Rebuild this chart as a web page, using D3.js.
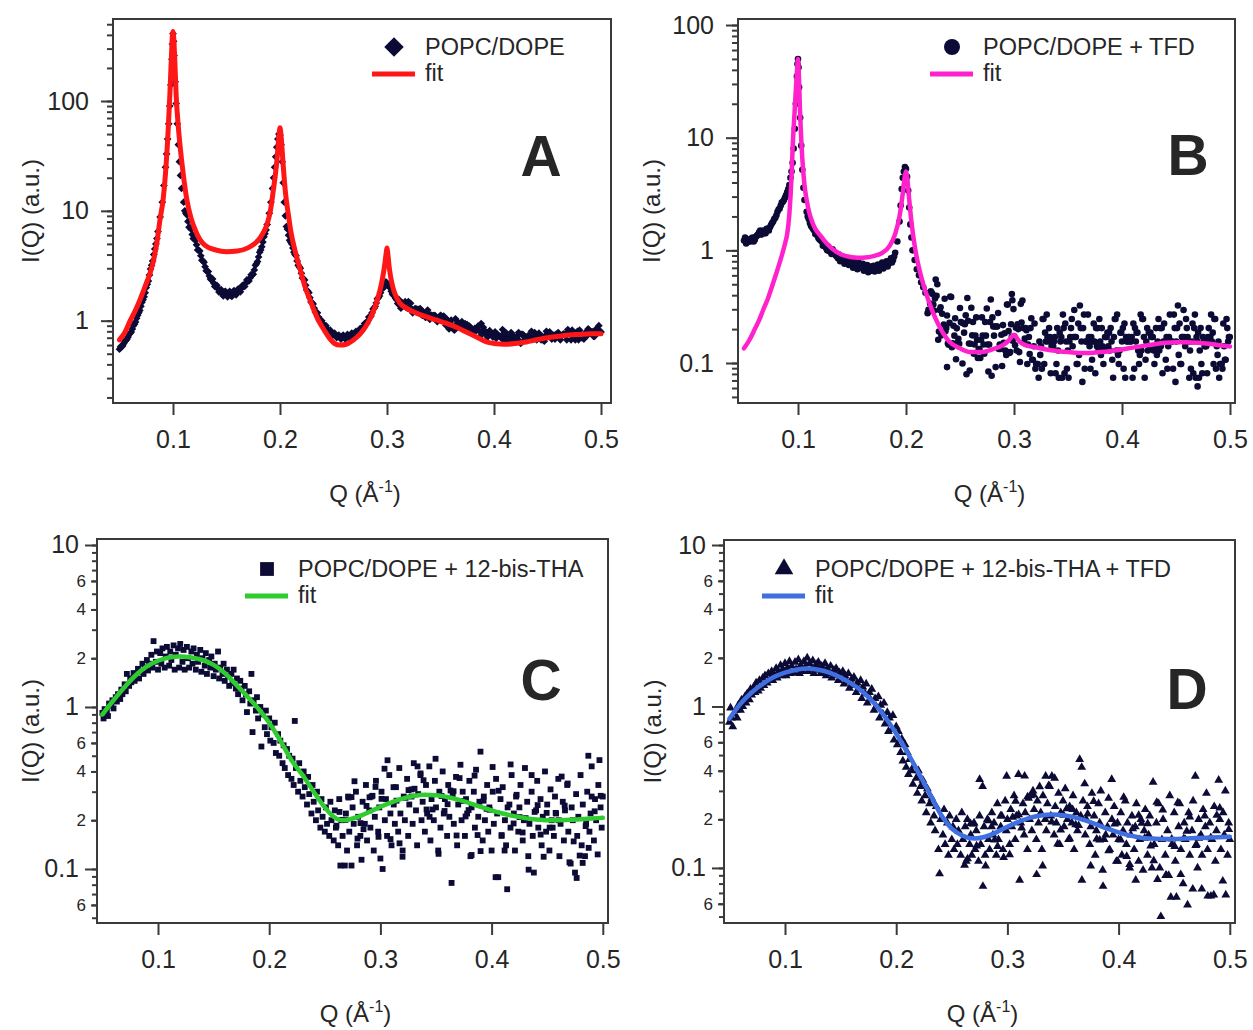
<!DOCTYPE html>
<html>
<head>
<meta charset="utf-8">
<script src="https://cdn.jsdelivr.net/npm/d3@7"></script>
<style>
  body { margin: 0; background: #fff; }
  svg { display: block; }
  text { font-family: "Liberation Sans", Arial, sans-serif; fill: #262626; }
</style>
</head>
<body>
<svg id="fig" width="1253" height="1030"></svg>
<script>
// ---------- shared tick values ----------
const qTicks = [0.1, 0.2, 0.3, 0.4, 0.5];
const qTickLabels = ["0.1", "0.2", "0.3", "0.4", "0.5"];
const topMajorTicks = [0.1, 1, 10, 100];
const bottomMajorTicks = [0.1, 1, 10];
const bottomLabelledMinorTicks = [0.06, 0.2, 0.4, 0.6, 2, 4, 6];

// ---------- A: POPC/DOPE (Q, I) ----------
const popcDope = [
[0.050,0.55],[0.052,0.58],[0.054,0.62],[0.056,0.66],[0.058,0.71],[0.060,0.77],[0.062,0.84],[0.064,0.93],
[0.066,1.05],[0.068,1.18],[0.070,1.35],[0.072,1.55],[0.074,1.8],[0.076,2.15],[0.078,2.6],[0.080,3.2],
[0.082,4.0],[0.084,5.0],[0.086,6.5],[0.088,8.8],[0.090,12],[0.0915,17],[0.093,25],[0.094,33],[0.095,45],
[0.096,62],[0.097,90],[0.098,140],[0.099,240],[0.0995,330],[0.100,410],[0.1005,350],[0.101,260],[0.102,150],
[0.103,95],[0.104,62],[0.105,40],[0.106,28],[0.107,21],[0.108,16],[0.110,12],[0.112,9.5],[0.114,8.0],
[0.116,7.0],[0.118,6.1],[0.120,5.5],[0.122,4.9],[0.124,4.4],[0.126,3.9],[0.128,3.5],[0.130,3.1],[0.132,2.8],
[0.134,2.55],[0.136,2.35],[0.138,2.2],[0.140,2.05],[0.142,1.95],[0.144,1.85],[0.146,1.78],[0.148,1.82],
[0.150,1.72],[0.152,1.78],[0.154,1.7],[0.156,1.8],[0.158,1.76],[0.160,1.85],[0.162,1.9],[0.164,1.98],
[0.166,2.05],[0.168,2.2],[0.170,2.3],[0.172,2.45],[0.174,2.6],[0.176,2.9],[0.178,3.3],[0.180,3.8],
[0.182,4.4],[0.184,5.2],[0.186,6.2],[0.188,7.5],[0.190,9.5],[0.1915,12],[0.193,16],[0.194,20],[0.195,25],
[0.196,31],[0.197,38],[0.198,45],[0.199,50],[0.200,49],[0.201,40],[0.202,28],[0.203,18],[0.204,12],
[0.205,9],[0.206,7.2],[0.208,6.0],[0.210,5.2],[0.212,4.6],[0.214,4.0],[0.216,3.5],[0.218,3.1],[0.220,2.7],
[0.222,2.4],[0.224,2.1],[0.226,1.85],[0.228,1.62],[0.230,1.45],[0.232,1.3],[0.234,1.18],[0.236,1.08],
[0.238,1.0],[0.240,0.94],[0.242,0.88],[0.244,0.84],[0.246,0.8],[0.248,0.78],[0.250,0.76],[0.252,0.73],
[0.254,0.72],[0.256,0.7],[0.258,0.71],[0.260,0.7],[0.262,0.72],[0.264,0.71],[0.266,0.73],[0.268,0.75],
[0.270,0.76],[0.272,0.78],[0.274,0.8],[0.276,0.84],[0.278,0.88],[0.280,0.93],[0.282,1.0],[0.284,1.08],
[0.286,1.18],[0.288,1.3],[0.290,1.45],[0.292,1.62],[0.294,1.8],[0.296,1.98],[0.298,2.15],[0.300,2.2],
[0.302,2.05],[0.304,1.85],[0.306,1.7],[0.308,1.6],
[0.051,0.58],[0.053,0.59],[0.055,0.65],[0.057,0.68],[0.059,0.75],[0.061,0.79],[0.063,0.9],[0.065,0.97],
[0.067,1.12],[0.069,1.24],[0.071,1.47],[0.073,1.65],[0.075,2.0],[0.077,2.3],[0.079,2.95],[0.081,3.5],
[0.083,4.5],[0.085,5.6],
[0.111,10],[0.113,9.2],[0.115,7.1],[0.117,6.8],[0.119,5.6],[0.121,5.4],[0.123,4.4],[0.125,4.3],
[0.127,3.55],[0.129,3.4],[0.131,2.85],[0.133,2.8],[0.135,2.4],[0.137,2.4],[0.139,2.05],[0.141,2.1],
[0.143,1.82],[0.145,1.92],[0.147,1.68],[0.149,1.85],[0.151,1.65],[0.153,1.85],[0.155,1.66],[0.157,1.88],
[0.159,1.72],[0.161,1.95],[0.163,1.83],[0.165,2.1],[0.167,2.05],[0.169,2.35],[0.171,2.3],[0.173,2.62],
[0.175,2.65],[0.177,3.2],[0.179,3.45],[0.181,4.2],[0.183,4.7],[0.185,5.8],[0.187,6.7],
[0.207,6.8],[0.209,5.4],[0.211,5.0],[0.213,4.2],[0.215,3.9],[0.217,3.2],[0.219,3.0],[0.221,2.45],
[0.223,2.35],[0.225,1.9],[0.227,1.8],[0.229,1.48],[0.231,1.42],[0.233,1.2],[0.235,1.18],[0.237,1.0],
[0.239,1.0],[0.241,0.88],[0.243,0.9],[0.245,0.79],[0.247,0.82],[0.249,0.74],[0.251,0.77],[0.253,0.7],
[0.255,0.74],[0.257,0.68],[0.259,0.74],[0.261,0.68],[0.263,0.75],[0.265,0.7],[0.267,0.77],[0.269,0.73],
[0.271,0.8],[0.273,0.77],[0.275,0.85],[0.277,0.84],[0.279,0.94],[0.281,0.94],[0.283,1.08],[0.285,1.1],
[0.287,1.28],[0.289,1.35],[0.291,1.58],[0.293,1.68],[0.295,1.95],[0.297,2.0],[0.299,2.25],[0.301,2.1],
[0.303,1.98],[0.305,1.75],[0.307,1.7],[0.309,1.55],
[0.310,1.43],[0.312,1.39],[0.314,1.46],[0.316,1.42],[0.318,1.32],[0.320,1.49],[0.322,1.44],[0.324,1.18],
[0.326,1.28],[0.328,1.24],[0.330,1.18],[0.332,1.14],[0.334,1.2],[0.336,1.07],[0.338,1.25],[0.340,1.03],
[0.342,1.1],[0.344,1.12],[0.346,1.07],[0.348,1.02],[0.350,1.12],[0.352,1.06],[0.354,1.04],[0.356,1.03],
[0.358,0.84],[0.360,1.01],[0.362,0.84],[0.364,1.04],[0.366,0.98],[0.368,0.9],[0.370,0.98],[0.372,0.83],
[0.374,0.85],[0.376,0.87],[0.378,0.87],[0.380,0.81],[0.382,0.85],[0.384,0.82],[0.386,0.81],[0.388,0.94],
[0.390,0.87],[0.392,0.8],[0.394,0.71],[0.396,0.81],[0.398,0.75],[0.400,0.74],[0.402,0.69],[0.404,0.74],
[0.406,0.71],[0.408,0.83],[0.410,0.75],[0.412,0.68],[0.414,0.71],[0.416,0.78],[0.418,0.68],[0.420,0.67],
[0.422,0.72],[0.424,0.65],[0.426,0.75],[0.428,0.73],[0.430,0.71],[0.432,0.73],[0.434,0.7],[0.436,0.68],
[0.438,0.78],[0.440,0.67],[0.442,0.77],[0.444,0.67],[0.446,0.67],[0.448,0.73],[0.450,0.72],[0.452,0.79],
[0.454,0.68],[0.456,0.74],[0.458,0.75],[0.460,0.78],[0.462,0.67],[0.464,0.74],[0.466,0.75],[0.468,0.67],
[0.470,0.79],[0.472,0.67],[0.474,0.76],[0.476,0.67],[0.478,0.8],[0.480,0.82],[0.482,0.7],[0.484,0.68],
[0.486,0.79],[0.488,0.84],[0.490,0.79],[0.492,0.79],[0.494,0.72],[0.496,0.84],[0.498,0.9],[0.500,0.79],
[0.311,1.56],[0.313,1.3],[0.315,1.39],[0.317,1.49],[0.319,1.3],[0.321,1.32],[0.323,1.28],[0.325,1.25],
[0.327,1.29],[0.329,1.27],[0.331,1.29],[0.333,1.12],[0.335,1.13],[0.337,1.09],[0.339,1.13],[0.341,1.13],
[0.343,1.11],[0.345,1.11],[0.347,0.98],[0.349,1.05],[0.351,1.1],[0.353,1.1],[0.355,0.91],[0.357,1.0],
[0.359,0.955],[0.361,0.86],[0.363,0.82],[0.365,0.925],[0.367,0.93],[0.369,0.905],[0.371,0.91],[0.373,0.94],
[0.375,0.92],[0.377,0.89],[0.379,0.83],[0.381,0.81],[0.383,0.81],[0.385,0.89],[0.387,0.72],[0.389,0.805],
[0.391,0.77],[0.393,0.77],[0.395,0.79],[0.397,0.78],[0.399,0.71],[0.401,0.79],[0.403,0.75],[0.405,0.72],
[0.407,0.73],[0.409,0.66],[0.411,0.78],[0.413,0.68],[0.415,0.66],[0.417,0.73],[0.419,0.716],[0.421,0.714],
[0.423,0.78],[0.425,0.62],[0.427,0.75],[0.429,0.68],[0.431,0.66],[0.433,0.72],[0.435,0.8],[0.437,0.7],
[0.439,0.75],[0.441,0.72],[0.443,0.7],[0.445,0.72],[0.447,0.65],[0.449,0.8],[0.451,0.74],[0.453,0.76],
[0.455,0.71],[0.457,0.68],[0.459,0.75],[0.461,0.73],[0.463,0.73],[0.465,0.76],[0.467,0.75],[0.469,0.83],
[0.471,0.78],[0.473,0.82],[0.475,0.69],[0.477,0.73],[0.479,0.67],[0.481,0.71],[0.483,0.7],[0.485,0.76],
[0.487,0.73],[0.489,0.82],[0.491,0.79],[0.493,0.72],[0.495,0.83],[0.497,0.79],[0.499,0.8]
];
const popcDopeFit = [
[0.050,0.67],[0.055,0.78],[0.060,1.0],[0.065,1.25],[0.069,1.54],[0.0735,2.0],[0.0785,2.7],[0.082,3.6],
[0.085,5.2],[0.088,8.5],[0.0907,12.5],[0.093,22],[0.0953,50],[0.097,110],[0.0985,250],[0.0995,400],
[0.100,430],[0.1005,400],[0.1015,260],[0.103,110],[0.105,58],[0.1065,40],[0.110,20],[0.113,12.5],
[0.117,8.5],[0.120,7.0],[0.125,5.5],[0.130,4.85],[0.140,4.4],[0.150,4.25],[0.160,4.3],[0.170,4.6],
[0.176,5.0],[0.181,5.6],[0.185,6.5],[0.188,7.6],[0.191,10],[0.194,16],[0.197,28],[0.199,48],[0.200,57],
[0.201,48],[0.203,26],[0.205,15],[0.208,9],[0.210,6.6],[0.215,4.0],[0.219,2.9],[0.224,1.95],[0.228,1.55],
[0.235,1.05],[0.242,0.8],[0.247,0.68],[0.251,0.62],[0.256,0.6],[0.262,0.61],[0.267,0.65],[0.272,0.71],
[0.277,0.8],[0.282,0.95],[0.287,1.2],[0.291,1.55],[0.295,2.2],[0.298,3.3],[0.2995,4.3],[0.300,4.6],
[0.3005,4.3],[0.302,3.1],[0.305,2.1],[0.308,1.7],[0.312,1.45],[0.318,1.3],[0.325,1.2],[0.335,1.1],
[0.345,1.02],[0.355,0.95],[0.365,0.87],[0.375,0.78],[0.385,0.7],[0.393,0.64],[0.400,0.62],[0.410,0.61],
[0.420,0.62],[0.430,0.64],[0.440,0.67],[0.450,0.7],[0.460,0.72],[0.470,0.74],[0.480,0.75],[0.490,0.76],
[0.500,0.76]
];

// ---------- B: POPC/DOPE + TFD ----------
const popcDopeTfd = [
[0.050,1.22],[0.052,1.15],[0.054,1.25],[0.056,1.2],[0.058,1.3],[0.060,1.24],[0.062,1.35],[0.064,1.45],
[0.066,1.38],[0.068,1.5],[0.070,1.42],[0.072,1.55],[0.074,1.6],[0.076,1.75],[0.078,1.9],[0.080,2.05],
[0.082,2.3],[0.084,2.5],[0.086,2.7],[0.088,2.95],[0.090,3.3],[0.092,3.8],[0.093,4.4],[0.094,5.0],
[0.095,6.0],[0.096,8],[0.097,12],[0.098,20],[0.099,35],[0.0995,45],[0.100,50],[0.1005,42],[0.101,28],
[0.102,15],[0.103,8.5],[0.104,5.2],[0.105,3.6],[0.106,2.8],[0.108,2.2],[0.110,1.9],[0.112,1.65],
[0.114,1.55],[0.116,1.4],[0.118,1.35],[0.120,1.25],[0.122,1.2],[0.124,1.15],[0.126,1.05],[0.128,1.08],
[0.130,1.0],[0.132,1.02],[0.134,0.95],[0.136,0.88],[0.138,0.92],[0.140,0.84],[0.142,0.8],[0.144,0.86],
[0.146,0.78],[0.148,0.82],[0.150,0.75],[0.152,0.8],[0.154,0.72],[0.156,0.78],[0.158,0.7],[0.160,0.76],
[0.162,0.68],[0.164,0.74],[0.166,0.7],[0.168,0.66],[0.170,0.73],[0.172,0.68],[0.174,0.75],[0.176,0.7],
[0.178,0.78],[0.180,0.72],[0.182,0.8],[0.184,0.76],[0.186,0.85],[0.188,0.82],[0.190,0.95],[0.192,1.2],
[0.194,1.8],[0.195,2.5],[0.196,3.5],[0.197,4.4],[0.198,5.0],[0.199,5.5],[0.200,5.3],[0.201,4.5],
[0.202,3.4],[0.203,2.4],[0.204,1.7],[0.205,1.3],[0.206,1.0],[0.208,0.82],[0.210,0.68],[0.212,0.6],
[0.214,0.52],[0.216,0.47],[0.218,0.42],
[0.051,1.3],[0.053,1.18],[0.055,1.22],[0.057,1.28],[0.059,1.2],[0.061,1.32],[0.063,1.38],[0.065,1.5],
[0.067,1.45],[0.069,1.42],[0.071,1.55],[0.073,1.5],[0.075,1.68],[0.077,1.8],[0.079,1.95],[0.081,2.2],
[0.083,2.35],[0.085,2.65],[0.087,2.8],[0.089,3.1],[0.091,3.5],
[0.109,2.0],[0.111,1.75],[0.113,1.6],[0.115,1.5],[0.117,1.42],[0.119,1.28],[0.121,1.22],[0.123,1.1],
[0.125,1.12],[0.127,1.0],[0.129,0.98],[0.131,0.93],[0.133,0.98],[0.135,0.9],[0.137,0.85],[0.139,0.8],
[0.141,0.88],[0.143,0.76],[0.145,0.82],[0.147,0.74],[0.149,0.79],[0.151,0.7],[0.153,0.76],[0.155,0.68],
[0.157,0.74],[0.159,0.72],[0.161,0.66],[0.163,0.71],[0.165,0.64],[0.167,0.72],[0.169,0.69],[0.171,0.65],
[0.173,0.71],[0.175,0.66],[0.177,0.74],[0.179,0.69],[0.181,0.76],[0.183,0.72],[0.185,0.8],[0.187,0.78],
[0.189,0.88],
[0.2200,0.277],[0.2215,0.288],[0.2230,0.433],[0.2245,0.409],[0.2260,0.292],[0.2275,0.55],[0.2290,0.5],
[0.2305,0.19],[0.2320,0.313],[0.2335,0.274],[0.2350,0.219],[0.2365,0.191],[0.2380,0.264],[0.238,0.092],
[0.2395,0.145],[0.2410,0.39],[0.2425,0.138],[0.2440,0.214],[0.2455,0.25],[0.2470,0.203],[0.2485,0.164],
[0.2500,0.308],[0.2515,0.229],[0.2530,0.225],[0.2545,0.221],[0.2560,0.0795],[0.2575,0.237],[0.2590,0.0856],
[0.2605,0.309],[0.2620,0.231],[0.2635,0.146],[0.2650,0.254],[0.2665,0.111],[0.2680,0.133],[0.2695,0.16],
[0.2710,0.175],[0.2725,0.121],[0.2740,0.175],[0.2755,0.146],[0.2770,0.146],[0.2785,0.366],[0.2800,0.254],
[0.2815,0.175],[0.2830,0.092],[0.2845,0.211],[0.2860,0.133],[0.2875,0.133],[0.2890,0.094],[0.2905,0.151],
[0.2920,0.129],[0.2935,0.33],[0.2950,0.192],[0.2965,0.125],[0.2980,0.171],[0.298,0.41],[0.2985,0.36],
[0.2995,0.301],[0.3010,0.144],[0.3025,0.129],[0.3040,0.2],[0.3055,0.102],[0.3070,0.229],[0.3085,0.204],
[0.3100,0.165],[0.3115,0.195],[0.3130,0.146],[0.3145,0.12],[0.3160,0.249],[0.3175,0.107],[0.3190,0.224],
[0.3205,0.098],[0.3220,0.098],[0.3235,0.155],[0.3250,0.141],[0.3265,0.246],[0.3280,0.098],[0.3295,0.155],
[0.3310,0.17],[0.3325,0.204],[0.3340,0.081],[0.3355,0.141],[0.3370,0.155],[0.3385,0.081],[0.3400,0.204],
[0.3415,0.074],[0.3430,0.155],[0.3445,0.074],[0.3460,0.204],[0.3475,0.224],[0.3490,0.089],[0.3505,0.074],
[0.3520,0.17],[0.3535,0.246],[0.3550,0.17],[0.3565,0.17],[0.3580,0.098],[0.3595,0.224],[0.3610,0.324],
[0.3625,0.155],[0.3640,0.204],[0.3655,0.089],[0.3670,0.155],[0.3685,0.269],[0.3700,0.141],[0.3715,0.17],
[0.3730,0.155],[0.3745,0.155],[0.3760,0.204],[0.3775,0.204],[0.3790,0.246],[0.3805,0.118],[0.3820,0.141],
[0.3835,0.129],[0.3850,0.17],[0.3865,0.186],[0.3880,0.186],[0.3895,0.204],[0.3910,0.107],[0.3925,0.17],
[0.3940,0.246],[0.3955,0.269],[0.3970,0.098],[0.3985,0.186],[0.4000,0.155],[0.4015,0.089],[0.4030,0.074],
[0.4045,0.155],[0.4060,0.17],[0.4075,0.155],[0.4090,0.17],[0.4105,0.224],[0.4120,0.204],[0.4135,0.186],
[0.4150,0.129],[0.4165,0.118],[0.4180,0.129],[0.4195,0.246],[0.4210,0.074],[0.4225,0.155],[0.4240,0.129],
[0.4255,0.141],[0.4270,0.17],[0.4285,0.17],[0.4300,0.098],[0.4315,0.204],[0.4330,0.155],[0.4345,0.129],
[0.4360,0.141],[0.4375,0.081],[0.4390,0.224],[0.4405,0.107],[0.4420,0.089],[0.4435,0.17],[0.4450,0.155],
[0.4465,0.155],[0.4480,0.269],[0.4495,0.068],[0.4510,0.204],[0.4525,0.118],[0.4540,0.098],[0.4555,0.17],
[0.4570,0.295],[0.4585,0.141],[0.4600,0.204],[0.4615,0.155],[0.4630,0.129],[0.4645,0.155],[0.4660,0.081],
[0.4675,0.269],[0.4690,0.17],[0.470,0.062],[0.4705,0.186],[0.4720,0.129],[0.4735,0.098],[0.4750,0.17],
[0.4765,0.141],[0.4780,0.141],[0.4795,0.17],[0.4810,0.155],[0.4825,0.269],[0.4840,0.186],[0.4855,0.246],
[0.4870,0.089],[0.4885,0.118],[0.4900,0.074],[0.4915,0.098],[0.4930,0.089],[0.4945,0.141],[0.4960,0.107],
[0.4975,0.204],[0.4990,0.17],
[0.2208,0.296],[0.2223,0.337],[0.2238,0.42],[0.2253,0.33],[0.2268,0.373],[0.2283,0.395],[0.2298,0.161],
[0.2313,0.296],[0.2328,0.176],[0.2343,0.186],[0.2358,0.372],[0.2373,0.205],[0.2388,0.149],[0.2403,0.227],
[0.2418,0.385],[0.2433,0.15],[0.2448,0.175],[0.2463,0.108],[0.2478,0.151],[0.2493,0.148],[0.2508,0.231],
[0.2523,0.099],[0.2538,0.186],[0.2553,0.265],[0.2568,0.378],[0.2583,0.149],[0.2598,0.148],[0.2613,0.176],
[0.2628,0.121],[0.2643,0.175],[0.2658,0.16],[0.2673,0.133],[0.2688,0.111],[0.2703,0.254],[0.2718,0.146],
[0.2733,0.231],[0.2748,0.305],[0.2763,0.084],[0.2778,0.231],[0.2793,0.077],[0.2808,0.211],[0.2823,0.211],
[0.2838,0.211],[0.2853,0.278],[0.2868,0.146],[0.2883,0.178],[0.2898,0.217],[0.2913,0.184],[0.2928,0.118],
[0.2943,0.331],[0.2958,0.123],[0.2973,0.221],[0.2988,0.158],[0.3003,0.173],[0.3018,0.206],[0.3033,0.221],
[0.3048,0.125],[0.3063,0.335],[0.3078,0.359],[0.3093,0.152],
[0.3108,0.204],[0.3123,0.098],[0.3138,0.17],[0.3153,0.204],[0.3168,0.107],[0.3183,0.141],[0.3198,0.089],
[0.3213,0.098],[0.3228,0.074],[0.3243,0.118],[0.3258,0.089],[0.3273,0.246],[0.3288,0.186],[0.3303,0.269],
[0.3318,0.155],[0.3333,0.17],[0.3348,0.141],[0.3363,0.141],[0.3378,0.17],[0.3393,0.098],[0.3408,0.129],
[0.3423,0.186],[0.3438,0.17],[0.3453,0.269],[0.3468,0.081],[0.3483,0.155],[0.3498,0.129],[0.3513,0.155],
[0.3528,0.204],[0.3543,0.141],[0.3558,0.295],[0.3573,0.17],[0.3588,0.098],[0.3603,0.118],[0.3618,0.204],
[0.3633,0.068],[0.3648,0.269],[0.3663,0.155],[0.3678,0.155],[0.3693,0.17],[0.3708,0.089],[0.3723,0.107],
[0.3738,0.224],[0.3753,0.081],[0.3768,0.141],[0.3783,0.129],[0.3798,0.155],[0.3813,0.204],[0.3828,0.098],
[0.3843,0.17],[0.3858,0.17],[0.3873,0.141],[0.3888,0.129],[0.3903,0.155],[0.3918,0.074],[0.3933,0.246],
[0.3948,0.129],[0.3963,0.118],[0.3978,0.129],[0.3993,0.186],[0.4008,0.204],[0.4023,0.224],[0.4038,0.17],
[0.4053,0.155],[0.4068,0.17],[0.4083,0.155],[0.4098,0.074],[0.4113,0.089],[0.4128,0.155],[0.4143,0.186],
[0.4158,0.098],[0.4173,0.269],[0.4188,0.246],[0.4203,0.17],[0.4218,0.107],[0.4233,0.204],[0.4248,0.186],
[0.4263,0.186],[0.4278,0.17],[0.4293,0.129],[0.4308,0.141],[0.4323,0.118],[0.4338,0.246],[0.4353,0.204],
[0.4368,0.204],[0.4383,0.155],[0.4398,0.155],[0.4413,0.17],[0.4428,0.141],[0.4443,0.269],[0.4458,0.155],
[0.4473,0.089],[0.4488,0.204],[0.4503,0.155],[0.4518,0.324],[0.4533,0.224],[0.4548,0.098],[0.4563,0.17],
[0.4578,0.17],[0.4593,0.246],[0.4608,0.17],[0.4623,0.074],[0.4638,0.089],[0.4653,0.224],[0.4668,0.204],
[0.4683,0.074],[0.4698,0.155],[0.4713,0.074],[0.4728,0.204],[0.4743,0.081],[0.4758,0.155],[0.4773,0.141],
[0.4788,0.081],[0.4803,0.204],[0.4818,0.17],[0.4833,0.155],[0.4848,0.098],[0.4863,0.246],[0.4878,0.141],
[0.4893,0.155],[0.4908,0.098],[0.4923,0.098],[0.4938,0.224],[0.4953,0.107],[0.4968,0.246],[0.4983,0.155],
[0.4998,0.17]
];
const popcDopeTfdFit = [
[0.050,0.135],[0.055,0.16],[0.060,0.2],[0.064,0.24],[0.068,0.3],[0.072,0.37],[0.076,0.48],[0.080,0.63],
[0.085,0.9],[0.088,1.15],[0.090,1.4],[0.092,2.1],[0.094,4.5],[0.095,8],[0.097,18],[0.099,38],[0.100,50],
[0.1005,42],[0.102,16],[0.104,6.5],[0.106,3.8],[0.108,2.8],[0.110,2.25],[0.113,1.8],[0.116,1.55],
[0.120,1.38],[0.125,1.2],[0.130,1.07],[0.135,0.98],[0.140,0.92],[0.150,0.87],[0.160,0.86],[0.170,0.89],
[0.178,0.95],[0.185,1.1],[0.190,1.4],[0.194,2.0],[0.197,3.2],[0.199,4.6],[0.200,5.0],[0.201,4.5],
[0.203,2.8],[0.205,1.8],[0.208,1.1],[0.212,0.7],[0.216,0.5],[0.220,0.38],[0.225,0.28],[0.230,0.22],
[0.235,0.18],[0.240,0.155],[0.250,0.135],[0.260,0.125],[0.270,0.125],[0.280,0.132],[0.290,0.145],
[0.295,0.158],[0.298,0.172],[0.300,0.178],[0.302,0.17],[0.305,0.155],[0.310,0.145],[0.320,0.138],
[0.330,0.132],[0.340,0.128],[0.350,0.125],[0.360,0.123],[0.370,0.123],[0.380,0.125],[0.390,0.128],
[0.400,0.132],[0.410,0.137],[0.420,0.142],[0.430,0.147],[0.440,0.151],[0.450,0.153],[0.460,0.153],
[0.470,0.151],[0.480,0.148],[0.490,0.144],[0.500,0.14]
];

// ---------- C: POPC/DOPE + 12-bis-THA ----------
const popcDopeTha = [
[0.050,0.92],[0.051,0.85],[0.052,0.97],[0.054,0.95],[0.055,0.88],[0.056,1.05],[0.058,1.02],[0.059,1.1],
[0.060,0.98],[0.062,1.15],[0.063,1.08],[0.064,1.2],[0.066,1.12],[0.067,1.28],[0.068,1.2],[0.070,1.38],
[0.071,1.25],[0.072,1.6],[0.074,1.35],[0.075,1.5],[0.076,1.42],[0.078,1.62],[0.079,1.45],[0.080,1.55],
[0.082,1.72],[0.083,1.5],[0.084,1.65],[0.086,1.85],[0.087,1.6],[0.088,1.75],[0.090,1.95],[0.091,1.68],
[0.092,1.85],[0.094,2.1],[0.095,1.75],[0.096,2.55],[0.098,1.9],[0.099,2.2],[0.100,1.7],[0.102,2.15],
[0.103,1.85],[0.104,2.3],[0.106,1.75],[0.107,2.05],[0.108,2.35],[0.110,1.8],[0.111,2.2],[0.112,1.95],
[0.114,2.4],[0.115,1.7],[0.116,2.1],[0.118,2.3],[0.119,1.75],[0.120,2.45],[0.122,1.9],[0.123,2.25],
[0.124,1.7],[0.126,2.35],[0.127,2.0],[0.128,1.75],[0.130,2.2],[0.131,1.85],[0.132,2.3],[0.134,1.7],
[0.135,2.1],[0.136,1.9],[0.138,2.25],[0.139,1.65],[0.140,2.0],[0.142,1.8],[0.143,2.15],[0.144,1.6],
[0.146,1.95],[0.147,1.75],[0.148,2.05],[0.150,1.55],[0.151,1.85],[0.152,1.7],[0.154,2.2],[0.155,1.5],
[0.156,1.75],[0.158,1.6],[0.159,1.85],[0.160,1.45],[0.162,1.7],[0.163,1.55],[0.164,1.35],[0.166,1.6],
[0.167,1.4],[0.168,1.7],[0.170,1.3],[0.171,1.5],[0.172,1.2],[0.174,1.45],[0.175,1.3],[0.176,1.1],
[0.178,1.35],[0.179,1.2],[0.180,0.93],[0.182,1.25],[0.183,1.05],[0.184,1.6],[0.185,0.7],[0.186,1.1],
[0.188,0.95],[0.189,1.15],[0.190,0.85],[0.192,1.0],[0.193,0.57],[0.194,0.9],[0.196,0.75],[0.197,0.95],
[0.198,0.68],[0.200,0.85],[0.201,0.62],[0.202,0.75],[0.204,0.6],[0.205,0.8],[0.206,0.52],[0.208,0.68],
[0.209,0.5],[0.210,0.62],[0.212,0.45],[0.213,0.58],[0.214,0.42],[0.216,0.55],[0.217,0.38],[0.218,0.5],
[0.220,0.36],[0.221,0.48],[0.222,0.33],[0.223,0.82],[0.224,0.42],[0.226,0.3],[0.227,0.45],[0.228,0.35],
[0.230,0.28],[0.231,0.4],[0.232,0.32],[0.234,0.25],[0.235,0.37],[0.236,0.29],[0.238,0.22],[0.239,0.33],
[0.240,0.26],[0.242,0.2],[0.243,0.3],[0.244,0.23],[0.246,0.18],[0.247,0.27],[0.248,0.21],[0.250,0.17],
[0.251,0.24],[0.252,0.19],[0.254,0.16],[0.255,0.26],[0.256,0.2],[0.258,0.15],[0.259,0.23],[0.260,0.18],
[0.262,0.14],[0.263,0.27],[0.264,0.105],[0.265,0.2],[0.266,0.16],[0.268,0.105],[0.269,0.22],[0.270,0.13],
[0.271,0.28],[0.272,0.17],[0.274,0.105],[0.275,0.24],[0.276,0.19],[0.278,0.3],[0.279,0.14],[0.280,0.21],
[0.282,0.16],[0.283,0.114],[0.284,0.26],[0.286,0.19],[0.287,0.33],[0.288,0.15],[0.290,0.23],[0.291,0.18],
[0.292,0.28],[0.294,0.13],[0.295,0.21],[0.296,0.35],[0.298,0.17],[0.299,0.24],[0.300,0.116],[0.301,0.3],
[0.302,0.1],[0.304,0.2],[0.305,0.27],[0.306,0.16],[0.308,0.38],[0.309,0.22],[0.310,0.14],[0.312,0.25],
[0.313,0.19],[0.314,0.32],[0.316,0.17],[0.317,0.42],[0.318,0.22],[0.320,0.13],[0.321,0.28],[0.322,0.2],
[0.324,0.36],[0.325,0.16],[0.326,0.25],[0.328,0.31],[0.329,0.19],[0.330,0.45],[0.332,0.23],[0.333,0.14],
[0.334,0.29],[0.336,0.38],[0.337,0.2],[0.338,0.26],[0.340,0.17],[0.341,0.33],[0.342,0.22],[0.344,0.43],
[0.345,0.15],[0.346,0.27],[0.348,0.2],[0.349,0.35],[0.350,0.24],[0.352,0.13],[0.353,0.3],[0.354,0.18],
[0.356,0.4],[0.357,0.22],[0.358,0.27],[0.360,0.16],[0.361,0.33],[0.362,0.21],[0.364,0.082],[0.365,0.29],
[0.366,0.19],[0.368,0.37],[0.369,0.14],[0.370,0.25],[0.372,0.44],[0.373,0.2],[0.374,0.3],[0.376,0.16],
[0.377,0.27],[0.378,0.22],[0.380,0.35],[0.381,0.12],[0.382,0.24],[0.384,0.3],[0.385,0.18],[0.386,0.41],
[0.388,0.21],[0.389,0.26],[0.390,0.53],[0.392,0.15],[0.393,0.28],[0.394,0.2],[0.396,0.33],[0.397,0.17],
[0.398,0.24],[0.400,0.13],[0.401,0.3],[0.402,0.19],[0.404,0.36],[0.405,0.22],[0.406,0.089],[0.408,0.27],
[0.409,0.16],[0.410,0.32],[0.412,0.2],[0.413,0.14],[0.414,0.075],[0.416,0.25],[0.417,0.18],[0.418,0.38],
[0.420,0.22],[0.421,0.13],[0.422,0.28],[0.424,0.17],[0.425,0.24],[0.426,0.33],[0.428,0.15],[0.429,0.2],
[0.430,0.42],[0.432,0.26],[0.433,0.12],[0.434,0.19],[0.436,0.3],[0.437,0.16],[0.438,0.095],[0.440,0.23],
[0.441,0.35],[0.442,0.18],[0.444,0.27],[0.445,0.14],[0.446,0.21],[0.448,0.4],[0.449,0.17],[0.450,0.25],
[0.452,0.13],[0.453,0.31],[0.454,0.2],[0.456,0.16],[0.457,0.28],[0.458,0.22],[0.460,0.36],[0.461,0.12],
[0.462,0.19],[0.464,0.26],[0.465,0.15],[0.466,0.23],[0.468,0.33],[0.469,0.17],[0.470,0.11],[0.472,0.24],
[0.473,0.2],[0.475,0.095],[0.476,0.29],[0.477,0.16],[0.478,0.21],[0.480,0.38],[0.481,0.14],[0.482,0.25],
[0.484,0.12],[0.485,0.19],[0.486,0.3],[0.487,0.5],[0.488,0.17],[0.489,0.22],[0.490,0.43],[0.492,0.15],
[0.493,0.27],[0.494,0.2],[0.496,0.33],[0.497,0.47],[0.498,0.24],[0.499,0.18],[0.500,0.28],
[0.2605,0.185],[0.2632,0.225],[0.2659,0.201],[0.2686,0.201],[0.2713,0.276],[0.2740,0.278],[0.2767,0.348],
[0.2794,0.154],[0.2821,0.192],[0.2848,0.176],[0.2875,0.245],[0.2902,0.277],[0.2929,0.283],[0.2956,0.321],
[0.2983,0.158],[0.3010,0.271],[0.3037,0.416],[0.3064,0.469],[0.3091,0.153],[0.3118,0.32],[0.3145,0.264],
[0.3172,0.144],[0.3199,0.119],[0.3226,0.275],[0.3253,0.307],[0.3280,0.28],[0.3307,0.313],[0.3334,0.43],
[0.3361,0.389],[0.3388,0.353],[0.3415,0.233],[0.3442,0.21],[0.3469,0.233],[0.3496,0.479],[0.3523,0.124],
[0.3550,0.282],[0.3577,0.228],[0.3604,0.251],[0.3631,0.305],[0.3658,0.302],[0.3685,0.161],[0.3712,0.364],
[0.3739,0.263],[0.3766,0.211],[0.3793,0.231],[0.3820,0.122],[0.3847,0.377],[0.3874,0.162],[0.3901,0.129],
[0.3928,0.264],[0.3955,0.235],[0.3982,0.232],[0.4009,0.426],[0.4036,0.089],[0.4063,0.304],[0.4090,0.162],
[0.4117,0.13],[0.4144,0.24],[0.4171,0.442],[0.4198,0.191],[0.4225,0.287],[0.4252,0.209],[0.4279,0.168],
[0.4306,0.206],[0.4333,0.099],[0.4360,0.38],[0.4387,0.225],[0.4414,0.248],[0.4441,0.163],[0.4468,0.119],
[0.4495,0.222],[0.4522,0.18],[0.4549,0.18],[0.4576,0.222],[0.4603,0.2],[0.4630,0.372],[0.4657,0.246],
[0.4684,0.337],[0.4711,0.108],[0.4738,0.148],[0.4765,0.088],[0.4792,0.121],[0.4819,0.109],[0.4846,0.184],
[0.4873,0.135],[0.4900,0.28],[0.4927,0.227],[0.4954,0.123],[0.4981,0.283]
];
const popcDopeThaFit = [
[0.050,0.90],[0.060,1.10],[0.070,1.33],[0.080,1.57],[0.090,1.78],[0.100,1.93],[0.110,2.02],[0.120,2.05],
[0.130,2.02],[0.140,1.95],[0.150,1.82],[0.160,1.62],[0.170,1.38],[0.180,1.17],[0.190,0.98],[0.200,0.80],
[0.210,0.62],[0.220,0.47],[0.230,0.38],[0.240,0.30],[0.250,0.24],[0.258,0.21],[0.265,0.20],[0.272,0.202],
[0.280,0.21],[0.290,0.225],[0.300,0.242],[0.310,0.258],[0.320,0.272],[0.330,0.282],[0.340,0.287],
[0.350,0.285],[0.360,0.278],[0.370,0.268],[0.380,0.255],[0.390,0.242],[0.400,0.23],[0.410,0.22],
[0.420,0.212],[0.430,0.206],[0.440,0.202],[0.450,0.200],[0.460,0.200],[0.470,0.201],[0.480,0.203],
[0.490,0.205],[0.500,0.207]
];

// ---------- D: POPC/DOPE + 12-bis-THA + TFD ----------
const popcDopeThaTfd = [
[0.050,0.8],[0.051,0.98],[0.052,0.85],[0.053,0.75],[0.054,0.9],[0.056,0.95],[0.057,0.85],[0.058,1.02],
[0.060,0.95],[0.061,1.1],[0.062,1.0],[0.064,1.15],[0.065,1.05],[0.066,1.2],[0.068,1.1],[0.069,1.28],
[0.070,1.18],[0.072,1.32],[0.073,1.22],[0.074,1.4],[0.076,1.25],[0.077,1.45],[0.078,1.3],[0.080,1.5],
[0.081,1.35],[0.082,1.55],[0.084,1.4],[0.085,1.6],[0.086,1.45],[0.088,1.65],[0.089,1.45],[0.090,1.58],
[0.092,1.72],[0.093,1.5],[0.094,1.65],[0.096,1.8],[0.097,1.55],[0.098,1.7],[0.100,1.85],[0.101,1.55],
[0.102,1.72],[0.104,1.9],[0.105,1.6],[0.106,1.78],[0.108,1.62],[0.109,1.88],[0.110,1.7],[0.112,1.95],
[0.113,1.6],[0.114,1.8],[0.116,1.65],[0.117,1.9],[0.118,1.75],[0.120,2.0],[0.121,1.65],[0.122,1.85],
[0.124,1.7],[0.125,1.92],[0.126,1.6],[0.128,1.82],[0.129,1.68],[0.130,1.88],[0.132,1.6],[0.133,1.78],
[0.134,1.65],[0.136,1.85],[0.137,1.55],[0.138,1.72],[0.140,1.6],[0.141,1.78],[0.142,1.5],[0.144,1.68],
[0.145,1.55],[0.146,1.72],[0.148,1.45],[0.149,1.62],[0.150,1.5],[0.152,1.65],[0.153,1.38],[0.154,1.55],
[0.156,1.42],[0.157,1.6],[0.158,1.3],[0.160,1.48],[0.161,1.35],[0.162,1.52],[0.164,1.22],[0.165,1.4],
[0.166,1.28],[0.168,1.45],[0.169,1.12],[0.170,1.32],[0.172,1.2],[0.173,1.38],[0.174,1.05],[0.176,1.22],
[0.177,1.1],[0.178,1.28],[0.180,0.95],[0.181,1.12],[0.182,1.0],[0.184,1.15],[0.185,0.85],[0.186,1.02],
[0.188,0.9],[0.189,1.05],[0.190,0.78],[0.192,0.92],[0.193,0.7],[0.194,0.85],[0.196,0.72],[0.197,0.88],
[0.198,0.62],[0.200,0.75],[0.201,0.58],[0.202,0.7],[0.204,0.52],[0.205,0.63],[0.206,0.46],[0.208,0.58],
[0.209,0.42],[0.210,0.52],[0.211,0.38],[0.212,0.47],[0.214,0.4],[0.215,0.33],[0.216,0.43],[0.218,0.36],
[0.219,0.29],[0.220,0.4],[0.222,0.32],[0.223,0.26],[0.224,0.35],[0.226,0.28],[0.227,0.22],[0.228,0.31],
[0.230,0.25],[0.231,0.19],[0.232,0.27],[0.234,0.21],[0.235,0.17],[0.236,0.24],[0.238,0.13],[0.239,0.092],
[0.240,0.2],[0.242,0.16],[0.243,0.23],[0.244,0.14],[0.246,0.19],[0.247,0.12],[0.248,0.21],[0.250,0.15],
[0.251,0.18],[0.252,0.13],[0.254,0.2],[0.255,0.14],[0.256,0.17],[0.258,0.12],[0.259,0.22],[0.260,0.15],
[0.262,0.18],[0.263,0.11],[0.264,0.2],[0.266,0.14],[0.267,0.16],[0.268,0.12],[0.270,0.19],[0.271,0.13],
[0.272,0.17],[0.274,0.11],[0.275,0.21],[0.276,0.14],[0.278,0.077],[0.279,0.18],[0.280,0.12],[0.282,0.2],
[0.283,0.15],[0.284,0.13],[0.286,0.22],[0.287,0.16],[0.288,0.19],[0.290,0.12],[0.291,0.25],[0.292,0.15],
[0.294,0.18],[0.295,0.21],[0.296,0.13],[0.298,0.26],[0.299,0.17],[0.300,0.2],[0.302,0.14],[0.303,0.23],
[0.304,0.18],[0.306,0.28],[0.307,0.15],[0.308,0.21],[0.310,0.38],[0.311,0.084],[0.312,0.19],[0.314,0.25],
[0.315,0.16],[0.316,0.22],[0.318,0.13],[0.319,0.27],[0.320,0.2],[0.322,0.17],[0.323,0.3],[0.324,0.23],
[0.326,0.15],[0.327,0.26],[0.328,0.19],[0.330,0.22],[0.331,0.13],[0.332,0.28],[0.334,0.2],[0.335,0.17],
[0.336,0.25],[0.338,0.32],[0.339,0.21],[0.340,0.37],[0.342,0.16],[0.343,0.24],[0.344,0.19],[0.346,0.29],
[0.347,0.14],[0.348,0.22],[0.350,0.26],[0.351,0.18],[0.352,0.31],[0.354,0.2],[0.355,0.15],[0.356,0.24],
[0.358,0.19],[0.359,0.28],[0.360,0.13],[0.362,0.22],[0.363,0.17],[0.365,0.47],[0.366,0.21],[0.367,0.084],
[0.368,0.26],[0.370,0.16],[0.371,0.2],[0.372,0.24],[0.374,0.14],[0.375,0.18],[0.376,0.29],[0.378,0.21],
[0.379,0.12],[0.380,0.17],[0.382,0.25],[0.383,0.19],[0.384,0.3],[0.386,0.077],[0.387,0.15],[0.388,0.22],
[0.390,0.18],[0.391,0.27],[0.392,0.13],[0.394,0.2],[0.395,0.16],[0.396,0.24],[0.398,0.11],[0.399,0.19],
[0.400,0.15],[0.402,0.22],[0.403,0.12],[0.404,0.17],[0.406,0.26],[0.407,0.14],[0.408,0.19],[0.410,0.1],
[0.411,0.16],[0.412,0.21],[0.414,0.13],[0.415,0.18],[0.416,0.25],[0.418,0.11],[0.419,0.15],[0.420,0.2],
[0.422,0.097],[0.423,0.17],[0.424,0.23],[0.426,0.12],[0.427,0.16],[0.428,0.21],[0.430,0.1],[0.431,0.34],
[0.432,0.14],[0.434,0.19],[0.435,0.085],[0.436,0.25],[0.438,0.05],[0.439,0.15],[0.440,0.2],[0.442,0.12],
[0.443,0.09],[0.444,0.17],[0.446,0.28],[0.447,0.066],[0.448,0.14],[0.450,0.22],[0.451,0.11],[0.452,0.066],
[0.454,0.18],[0.455,0.25],[0.456,0.13],[0.458,0.08],[0.459,0.19],[0.460,0.15],[0.462,0.059],[0.463,0.22],
[0.464,0.12],[0.466,0.17],[0.467,0.26],[0.469,0.37],[0.470,0.14],[0.471,0.1],[0.472,0.2],[0.474,0.16],
[0.475,0.12],[0.476,0.23],[0.478,0.18],[0.479,0.29],[0.480,0.13],[0.482,0.19],[0.483,0.067],[0.484,0.15],
[0.486,0.24],[0.487,0.11],[0.488,0.17],[0.490,0.35],[0.491,0.2],[0.492,0.13],[0.494,0.22],[0.495,0.16],
[0.496,0.3],[0.498,0.12],[0.499,0.19],[0.500,0.15],
[0.2615,0.104],[0.2642,0.114],[0.2669,0.188],[0.2696,0.187],[0.2723,0.137],[0.2750,0.353],[0.2777,0.32],
[0.2804,0.103],[0.2831,0.196],[0.2858,0.18],[0.2885,0.149],[0.2912,0.136],[0.2939,0.21],[0.2966,0.116],
[0.2993,0.37],[0.3020,0.121],[0.3047,0.206],[0.3074,0.259],[0.3101,0.214],[0.3128,0.177],[0.3155,0.371],
[0.3182,0.276],[0.3209,0.28],[0.3236,0.283],[0.3263,0.091],[0.3290,0.319],[0.3317,0.103],[0.3344,0.37],
[0.3371,0.324],[0.3398,0.193],[0.3425,0.359],[0.3452,0.141],[0.3479,0.172],[0.3506,0.212],[0.3533,0.233],
[0.3560,0.152],[0.3587,0.23],[0.3614,0.185],[0.3641,0.183],[0.3668,0.42],[0.3695,0.332],[0.3722,0.216],
[0.3749,0.103],[0.3776,0.258],[0.3803,0.151],[0.3830,0.149],[0.3857,0.097],[0.3884,0.16],[0.3911,0.128],
[0.3938,0.353],[0.3965,0.187],[0.3992,0.11],[0.4019,0.149],[0.4046,0.274],[0.4073,0.118],[0.4100,0.105],
[0.4127,0.175],[0.4154,0.084],[0.4181,0.212],[0.4208,0.189],[0.4235,0.153],[0.4262,0.188],[0.4289,0.137],
[0.4316,0.111],[0.4343,0.255],[0.4370,0.1],[0.4397,0.229],[0.4424,0.09],[0.4451,0.09],[0.4478,0.151],
[0.4505,0.136],[0.4532,0.254],[0.4559,0.091],[0.4586,0.152],[0.4613,0.169],[0.4640,0.207],[0.4667,0.074],
[0.4694,0.138],[0.4721,0.153],[0.4748,0.074],[0.4775,0.21],[0.4802,0.067],[0.4829,0.154],[0.4856,0.068],
[0.4883,0.212],[0.4910,0.235],[0.4937,0.083],[0.4964,0.068],[0.4991,0.173]
];
const popcDopeThaTfdFit = [
[0.050,0.84],[0.060,1.04],[0.070,1.22],[0.080,1.38],[0.090,1.52],[0.100,1.62],[0.110,1.69],[0.120,1.72],
[0.130,1.69],[0.140,1.62],[0.150,1.51],[0.160,1.38],[0.170,1.23],[0.180,1.05],[0.190,0.86],[0.200,0.68],
[0.210,0.52],[0.220,0.39],[0.230,0.29],[0.240,0.215],[0.250,0.175],[0.260,0.158],[0.270,0.152],
[0.280,0.156],[0.290,0.166],[0.300,0.180],[0.310,0.193],[0.320,0.204],[0.330,0.211],[0.340,0.214],
[0.350,0.212],[0.360,0.206],[0.370,0.197],[0.380,0.186],[0.390,0.175],[0.400,0.166],[0.410,0.159],
[0.420,0.154],[0.430,0.152],[0.440,0.151],[0.450,0.151],[0.460,0.152],[0.470,0.153],[0.480,0.154],
[0.490,0.155],[0.500,0.156]
];

// ---------- panel layout ----------
const NAVY = "#0b0b36";
const AXIS = "#3a3a3a";

const panels = [
  { id: "A", data: popcDope, fit: popcDopeFit, label: "POPC/DOPE", fitColor: "#ff1616",
    symbol: "diamond", left: 113, right: 611, top: 19, bottom: 403,
    qDomain: [0.04393, 0.50935], iDomain: [0.178, 558], style: "top",
    yTitleX: 39, letterX: 541, letterY: 176, legendX: 394, legendY: 47 },
  { id: "B", data: popcDopeTfd, fit: popcDopeTfdFit, label: "POPC/DOPE + TFD", fitColor: "#ff22cc",
    symbol: "circle", left: 738, right: 1235, top: 19, bottom: 403,
    qDomain: [0.04444, 0.50463], iDomain: [0.04416, 113.1], style: "top",
    yTitleX: 660, letterX: 1188, letterY: 175, legendX: 952, legendY: 47 },
  { id: "C", data: popcDopeTha, fit: popcDopeThaFit, label: "POPC/DOPE + 12-bis-THA", fitColor: "#2ecc2e",
    symbol: "square", left: 97, right: 608, top: 539, bottom: 923,
    qDomain: [0.04514, 0.50468], iDomain: [0.0464, 10.89], style: "bottom",
    yTitleX: 39, letterX: 541, letterY: 700, legendX: 267, legendY: 569 },
  { id: "D", data: popcDopeThaTfd, fit: popcDopeThaTfdFit, label: "POPC/DOPE + 12-bis-THA + TFD", fitColor: "#3f6fe0",
    symbol: "triangle", left: 724, right: 1235, top: 540, bottom: 923,
    qDomain: [0.04514, 0.50468], iDomain: [0.0456, 10.74], style: "bottom",
    yTitleX: 661, letterX: 1187, letterY: 709, legendX: 784, legendY: 569 }
];

const symbolTypes = {
  diamond: d3.symbolSquare,
  circle: d3.symbolCircle,
  square: d3.symbolSquare,
  triangle: d3.symbolTriangle
};
const markSize = { diamond: 30, circle: 34, square: 34, triangle: 34 };
const legendSize = { diamond: 190, circle: 200, square: 190, triangle: 150 };
const markRotate = { diamond: 45, circle: 0, square: 0, triangle: 0 };
const FONT = '"Liberation Sans", Arial, sans-serif';

const svg = d3.select("#fig");

panels.forEach(p => {
  const x = d3.scaleLinear().domain(p.qDomain).range([p.left, p.right]);
  const y = d3.scaleLog().domain(p.iDomain).range([p.bottom, p.top]);
  const g = svg.append("g").attr("class", "panel-" + p.id);

  const clipId = "clip-" + p.id;
  g.append("clipPath").attr("id", clipId)
    .append("rect")
    .attr("x", p.left).attr("y", p.top)
    .attr("width", p.right - p.left).attr("height", p.bottom - p.top);

  const plot = g.append("g").attr("clip-path", `url(#${clipId})`);

  // data markers
  const sym = d3.symbol().type(symbolTypes[p.symbol]).size(markSize[p.symbol]);
  plot.append("g").selectAll("path")
    .data(p.data)
    .join("path")
    .attr("d", sym)
    .attr("transform", d => `translate(${x(d[0])},${y(d[1])}) rotate(${markRotate[p.symbol]})`)
    .attr("fill", NAVY);

  // fit curve
  const line = d3.line().x(d => x(d[0])).y(d => y(d[1])).curve(d3.curveMonotoneX);
  plot.append("path")
    .datum(p.fit)
    .attr("d", line)
    .attr("fill", "none")
    .attr("stroke", p.fitColor)
    .attr("stroke-width", p.id === "A" ? 5 : 4.5)
    .attr("stroke-linejoin", "round")
    .attr("stroke-linecap", "round");

  // x axis
  const xAxis = d3.axisBottom(x).tickValues(qTicks)
    .tickFormat((d, i) => qTickLabels[i]).tickSize(12).tickPadding(15);
  const gx = g.append("g").attr("transform", `translate(0,${p.bottom})`).call(xAxis);
  gx.select(".domain").remove();
  gx.selectAll("line").attr("stroke", AXIS).attr("stroke-width", 2);
  gx.selectAll("text").attr("font-size", 25).attr("fill", "#262626").attr("font-family", FONT);

  // y axis: all minor ticks from the log scale
  const inDomain = v => v >= p.iDomain[0] && v <= p.iDomain[1];
  const minor = y.ticks().filter(inDomain);
  const majors = p.style === "top" ? topMajorTicks : bottomMajorTicks;

  const yMinor = d3.axisLeft(y).tickValues(minor).tickSize(p.style === "top" ? 6 : 5).tickFormat("");
  const gyMinor = g.append("g").attr("transform", `translate(${p.left},0)`).call(yMinor);
  gyMinor.select(".domain").remove();
  gyMinor.selectAll("line").attr("stroke", AXIS).attr("stroke-width", 2);

  if (p.style === "bottom") {
    const labelled = bottomLabelledMinorTicks.filter(inDomain);
    const yLab = d3.axisLeft(y).tickValues(labelled).tickSize(6).tickPadding(5)
      .tickFormat(v => String(Math.round(v / Math.pow(10, Math.floor(Math.log10(v) + 1e-9)))));
    const gyLab = g.append("g").attr("transform", `translate(${p.left},0)`).call(yLab);
    gyLab.select(".domain").remove();
    gyLab.selectAll("line").attr("stroke", AXIS).attr("stroke-width", 2);
    gyLab.selectAll("text").attr("font-size", 17).attr("fill", "#262626").attr("font-family", FONT);
  }

  const yMajor = d3.axisLeft(y).tickValues(majors.filter(inDomain))
    .tickSize(12).tickPadding(p.style === "top" ? 12 : 6)
    .tickFormat(v => v < 1 ? String(v) : d3.format("d")(v));
  const gyMajor = g.append("g").attr("transform", `translate(${p.left},0)`).call(yMajor);
  gyMajor.select(".domain").remove();
  gyMajor.selectAll("line").attr("stroke", AXIS).attr("stroke-width", 2);
  gyMajor.selectAll("text").attr("font-size", 25).attr("fill", "#262626").attr("font-family", FONT);

  // frame
  g.append("rect")
    .attr("x", p.left).attr("y", p.top)
    .attr("width", p.right - p.left).attr("height", p.bottom - p.top)
    .attr("fill", "none").attr("stroke", AXIS).attr("stroke-width", 2);

  // axis titles
  const xt = g.append("text")
    .attr("x", (p.left + p.right) / 2 + 3).attr("y", p.bottom + 99)
    .attr("text-anchor", "middle").attr("font-size", 24);
  xt.append("tspan").text("Q (Å");
  xt.append("tspan").attr("dy", -10).attr("font-size", 16).text("-1");
  xt.append("tspan").attr("dy", 10).text(")");

  g.append("text")
    .attr("transform", `translate(${p.yTitleX},${(p.top + p.bottom) / 2}) rotate(-90)`)
    .attr("text-anchor", "middle").attr("font-size", 24)
    .text("I(Q) (a.u.)");

  // legend
  const lg = g.append("g");
  lg.append("path")
    .attr("d", d3.symbol().type(symbolTypes[p.symbol]).size(legendSize[p.symbol]))
    .attr("transform", `translate(${p.legendX},${p.legendY}) rotate(${markRotate[p.symbol]})`)
    .attr("fill", NAVY);
  lg.append("text").attr("x", p.legendX + 31).attr("y", p.legendY + 8)
    .attr("font-size", 23.5).text(p.label);
  lg.append("line")
    .attr("x1", p.legendX - 22).attr("x2", p.legendX + 21)
    .attr("y1", p.legendY + 27).attr("y2", p.legendY + 27)
    .attr("stroke", p.fitColor).attr("stroke-width", 5);
  lg.append("text").attr("x", p.legendX + 31).attr("y", p.legendY + 34)
    .attr("font-size", 23.5).text("fit");

  // panel letter
  g.append("text")
    .attr("x", p.letterX).attr("y", p.letterY)
    .attr("text-anchor", "middle")
    .attr("font-size", 57).attr("font-weight", "bold").attr("fill", "#111")
    .text(p.id);
});
</script>
</body>
</html>
